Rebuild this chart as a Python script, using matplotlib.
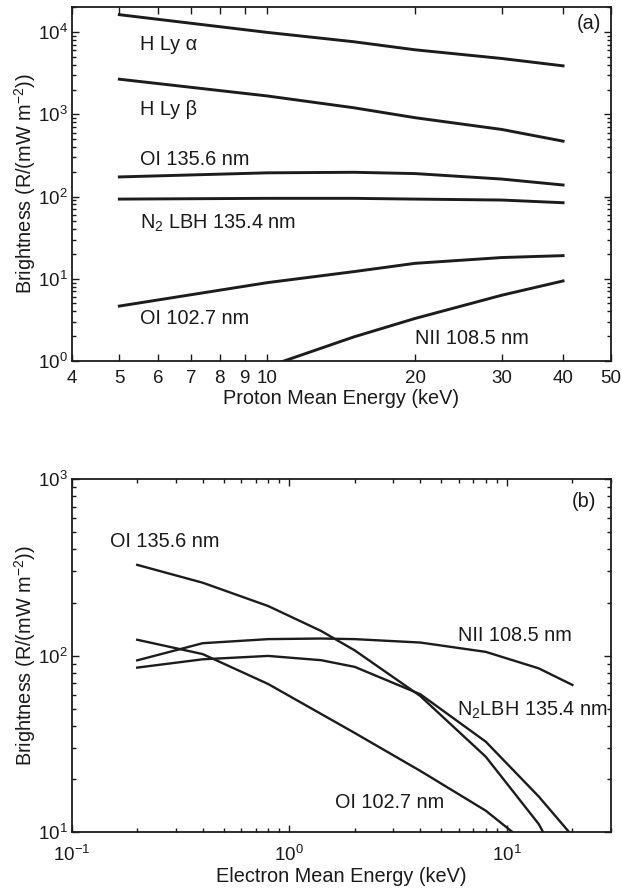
import numpy as np
import matplotlib
matplotlib.use("Agg")
import matplotlib.pyplot as plt
from matplotlib.ticker import FixedLocator, FixedFormatter, NullLocator, LogLocator, LogFormatterSciNotation

plt.rcParams['font.family'] = ['Liberation Sans', 'DejaVu Sans']
plt.rcParams['mathtext.fontset'] = 'custom'
plt.rcParams['mathtext.rm'] = 'Liberation Sans'
plt.rcParams['mathtext.it'] = 'Liberation Sans'
plt.rcParams['mathtext.default'] = 'regular'

# ---------------- Panel (a): proton mean energy ----------------
proton_energy = [5, 10, 15, 20, 30, 40]
h_ly_alpha = [16260, 9900, 7620, 6080, 4770, 3880]
h_ly_beta = [2670, 1670, 1200, 908, 654, 471]
oi_1356_p = [173, 194, 197, 190, 163, 138]
n2_lbh_p = [93, 95, 95, 93, 90.6, 84]
oi_1027_p = [4.65, 8.96, 12.2, 15.4, 18.1, 19.1]
nii_energy_p = [10, 15, 20, 30, 40]
nii_1085_p = [0.85, 1.96, 3.29, 6.3, 9.4]
proton_ticks = [4, 5, 6, 7, 8, 9, 10, 20, 30, 40, 50]
proton_ticklabels = ['4', '5', '6', '7', '8', '9', '10', '20', '30', '40', '50']

# ---------------- Panel (b): electron mean energy ----------------
electron_energy = [0.2, 0.4, 0.8, 1.4, 2, 4, 8, 14, 20]
oi_1356_e = [327, 259, 191, 138, 107, 59, 26.7, 11.1, 5.0]
nii_1085_e = [94, 117.6, 124, 125, 124, 118.6, 105, 84.7, 68.2]
n2_lbh_e = [85.5, 95.3, 99.6, 94.2, 86.3, 60.4, 32.5, 15.9, 9.5]
oi_1027_e = [123, 102, 69, 46.7, 36.4, 22.2, 13.2, 7.6, 5.0]

line_color = '#1c1c1c'
text_color = '#1a1a1a'
fs = 14.3
tfs = 13.5

fig = plt.figure(figsize=(6.22, 8.88), dpi=100)
ax1 = fig.add_axes([0.1153, 0.5935, 0.8665, 0.3983])
ax2 = fig.add_axes([0.1153, 0.0631, 0.8665, 0.3972])

def style(ax, xpad):
    ax.tick_params(which='both', direction='in', top=True, right=True,
                   colors=text_color, labelsize=tfs, width=1.0)
    ax.tick_params(which='major', length=5)
    ax.tick_params(which='minor', length=2.6)
    ax.tick_params(axis='y', which='major', pad=3)
    ax.tick_params(axis='x', which='major', pad=xpad)
    for s in ax.spines.values():
        s.set_linewidth(1.3)
        s.set_color(line_color)

# Panel (a)
lw1 = 2.1
ax1.plot(proton_energy, h_ly_alpha, color=line_color, lw=lw1)
ax1.plot(proton_energy, h_ly_beta, color=line_color, lw=lw1)
ax1.plot(proton_energy, oi_1356_p, color=line_color, lw=lw1)
ax1.plot(proton_energy, n2_lbh_p, color=line_color, lw=lw1)
ax1.plot(proton_energy, oi_1027_p, color=line_color, lw=lw1)
ax1.plot(nii_energy_p, nii_1085_p, color=line_color, lw=lw1)
ax1.set_xscale('log')
ax1.set_yscale('log')
ax1.set_xlim(4, 50)
ax1.set_ylim(1, 2e4)
ax1.xaxis.set_major_locator(FixedLocator(proton_ticks))
ax1.xaxis.set_major_formatter(FixedFormatter(proton_ticklabels))
ax1.xaxis.set_minor_locator(NullLocator())
ax1.yaxis.set_major_locator(LogLocator(base=10, numticks=10))
ax1.yaxis.set_minor_locator(LogLocator(base=10, subs=np.arange(2, 10), numticks=20))
ax1.yaxis.set_major_formatter(LogFormatterSciNotation())
style(ax1, 6.5)

tx = 5.51
ax1.text(tx, 6130, 'H Ly α', fontsize=fs, color=text_color, va='baseline')
ax1.text(tx, 972, 'H Ly β', fontsize=fs, color=text_color, va='baseline')
ax1.text(tx, 240, 'OI 135.6 nm', fontsize=fs, color=text_color, va='baseline')
ax1.text(tx, 40.6, 'N$_2$ LBH 135.4 nm', fontsize=fs, color=text_color, va='baseline')
ax1.text(tx, 2.84, 'OI 102.7 nm', fontsize=fs, color=text_color, va='baseline')
ax1.text(20.0, 1.61, 'NII 108.5 nm', fontsize=fs, color=text_color, va='baseline')
ax1.text(0.982, 0.953, '(a)', transform=ax1.transAxes, fontsize=fs,
         color=text_color, ha='right', va='center')
ax1.set_xlabel('Proton Mean Energy (keV)', fontsize=fs, color=text_color)
ax1.xaxis.set_label_coords(0.5, -0.1055)
ax1.xaxis.label.set_va('center')
ax1.set_ylabel('Brightness (R/(mW m$^{-2}$))', fontsize=fs, color=text_color)
ax1.yaxis.set_label_coords(-0.087, 0.5)
ax1.yaxis.label.set_va('center')

# Panel (b)
lw2 = 1.7
ax2.plot(electron_energy, oi_1356_e, color=line_color, lw=lw2)
ax2.plot(electron_energy, nii_1085_e, color=line_color, lw=lw2)
ax2.plot(electron_energy, n2_lbh_e, color=line_color, lw=lw2)
ax2.plot(electron_energy, oi_1027_e, color=line_color, lw=lw2)
ax2.set_xscale('log')
ax2.set_yscale('log')
ax2.set_xlim(0.1, 30)
ax2.set_ylim(10, 1000)
ax2.xaxis.set_major_locator(LogLocator(base=10, numticks=10))
ax2.xaxis.set_minor_locator(LogLocator(base=10, subs=np.arange(2, 10), numticks=20))
ax2.yaxis.set_major_locator(LogLocator(base=10, numticks=10))
ax2.yaxis.set_minor_locator(LogLocator(base=10, subs=np.arange(2, 10), numticks=20))
ax2.xaxis.set_major_formatter(LogFormatterSciNotation())
ax2.yaxis.set_major_formatter(LogFormatterSciNotation())
style(ax2, 9.5)

ax2.text(0.15, 411, 'OI 135.6 nm', fontsize=fs, color=text_color, va='baseline')
ax2.text(5.95, 121, 'NII 108.5 nm', fontsize=fs, color=text_color, va='baseline')
ax2.text(5.92, 45.5, 'N$_2$LBH 135.4 nm', fontsize=fs, color=text_color, va='baseline')
ax2.text(1.617, 13.7, 'OI 102.7 nm', fontsize=fs, color=text_color, va='baseline')
ax2.text(0.974, 0.938, '(b)', transform=ax2.transAxes, fontsize=fs,
         color=text_color, ha='right', va='center')
ax2.set_xlabel('Electron Mean Energy (keV)', fontsize=fs, color=text_color)
ax2.xaxis.set_label_coords(0.5, -0.127)
ax2.xaxis.label.set_va('center')
ax2.set_ylabel('Brightness (R/(mW m$^{-2}$))', fontsize=fs, color=text_color)
ax2.yaxis.set_label_coords(-0.087, 0.5)
ax2.yaxis.label.set_va('center')

fig.savefig('out.png', dpi=100)
